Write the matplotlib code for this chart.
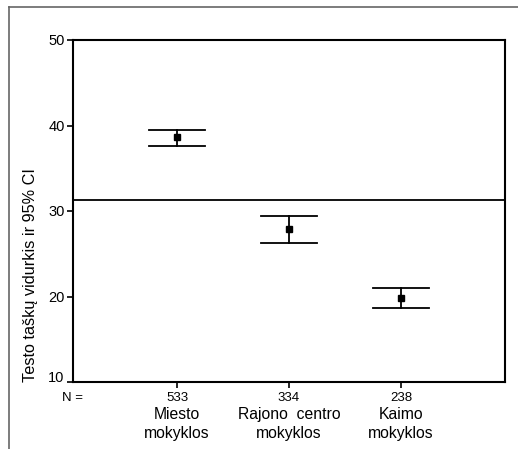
import matplotlib
matplotlib.use("Agg")
import matplotlib.pyplot as plt
import matplotlib.transforms as mtransforms
from matplotlib.lines import Line2D

plt.rcParams["font.family"] = ["Liberation Sans", "DejaVu Sans"]

groups = ["Miesto\nmokyklos", "Rajono  centro\nmokyklos", "Kaimo\nmokyklos"]
n_counts = ["533", "334", "238"]
means = [38.6, 27.85, 19.85]
ci_low = [37.6, 26.3, 18.6]
ci_high = [39.5, 29.4, 21.05]
grand_mean = 31.25

fig = plt.figure(figsize=(5.18, 4.49), dpi=100)
ax = fig.add_axes([73 / 518, 1 - 382 / 449, (505 - 73) / 518, (382 - 40) / 449])

x = [1, 2, 3]
for xi, m, lo, hi in zip(x, means, ci_low, ci_high):
    ax.plot([xi, xi], [lo, hi], color="black", lw=1.3)
    ax.plot([xi - 0.25, xi + 0.25], [lo, lo], color="black", lw=1.3)
    ax.plot([xi - 0.25, xi + 0.25], [hi, hi], color="black", lw=1.3)
ax.plot(x, means, "s", color="black", ms=4.5, ls="none")
ax.axhline(grand_mean, color="black", lw=1.3)

ax.set_xlim(0.07, 3.93)
ax.set_ylim(10, 50)
ax.set_yticks([10, 20, 30, 40, 50])
ax.set_xticks(x)
ax.set_xticklabels(n_counts, fontsize=9.5)
ax.tick_params(axis="y", labelsize=10.5, length=4, width=1.2, pad=2)
ax.tick_params(axis="x", length=4, width=1.2, pad=3)
for s in ax.spines.values():
    s.set_linewidth(1.5)

# bottom tick label sits a little above its tick, as in the original
lab10 = ax.get_yticklabels()[0]
lab10.set_transform(lab10.get_transform() +
                    mtransforms.ScaledTranslation(0, 5 / 100, fig.dpi_scale_trans))

ax.set_ylabel("Testo taškų vidurkis ir 95% CI", fontsize=11.7, loc="bottom")
ax.yaxis.set_label_coords(-0.099, 0.0)
ax.yaxis.label.set_va("center")

ax.text(0.0, -0.029, "N =", transform=ax.transAxes, fontsize=9.5, ha="center", va="top")
for xi, g in zip(x, groups):
    ax.text(xi, -0.073, g, transform=ax.get_xaxis_transform(), fontsize=11.3,
            ha="center", va="top", linespacing=1.3)

# grey frame lines along top and left edges of the picture
fig.add_artist(Line2D([8.5 / 518, 8.5 / 518], [0, 1 - 6.5 / 449], color="#666666", lw=1.2))
fig.add_artist(Line2D([8.5 / 518, 1], [1 - 6.5 / 449, 1 - 6.5 / 449], color="#666666", lw=1.2))

fig.savefig("out.png", dpi=100)
